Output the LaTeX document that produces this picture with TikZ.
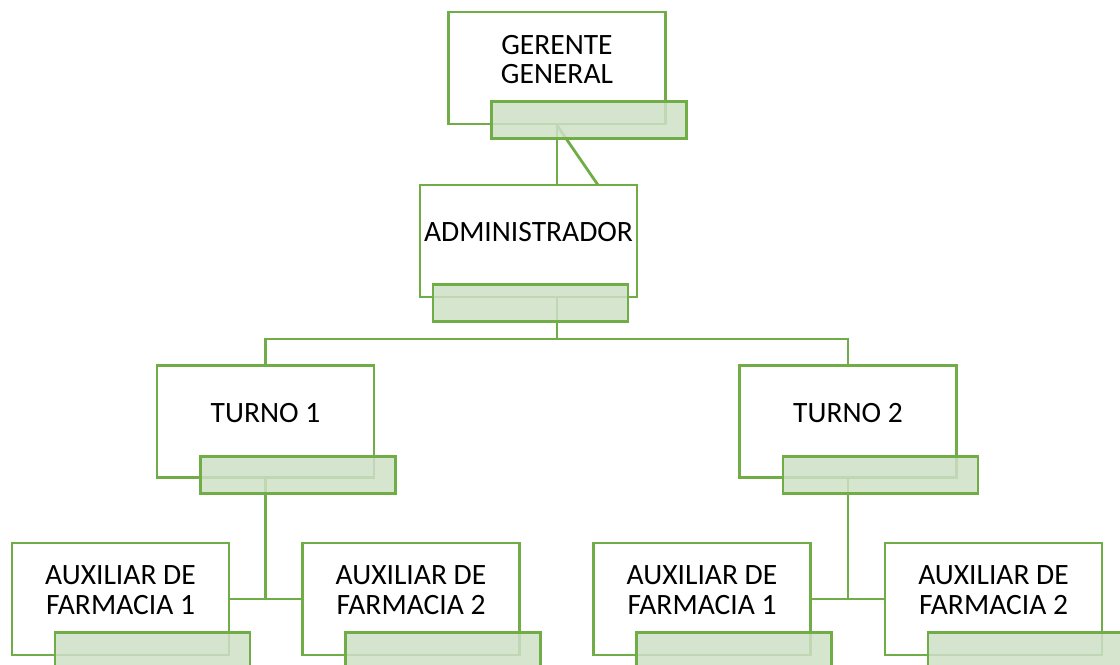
\documentclass[tikz,border=0pt]{standalone}
\usepackage{fontspec}
\setmainfont{Carlito}
\usepackage{tikz}
\definecolor{orggreen}{RGB}{112,173,71}
\definecolor{taggreen}{RGB}{206,224,198}

\begin{document}
\begin{tikzpicture}[
    x=0.02cm, y=-0.02cm,
    orgbox/.style={rectangle, draw=orggreen, fill=white, line width=1.6pt,
        minimum width=4.34cm, minimum height=2.24cm, inner sep=0pt},
    orgtext/.style={align=center, font=\fontsize{16.8}{17}\selectfont, inner sep=0pt},
    tagbox/.style={rectangle, draw=orggreen, fill=taggreen, fill opacity=0.85,
        line width=1.6pt, minimum width=3.9cm, minimum height=0.74cm,
        inner sep=0pt, anchor=north west},
    orgline/.style={draw=orggreen, line width=1.6pt}
]
\useasboundingbox (0,0) rectangle (1120,664);

% boxes
\node[orgbox] (ger) at (557,68) {};
\node[orgbox] (adm) at (528.5,241) {};
\node[orgbox] (t1) at (265.5,421.5) {};
\node[orgbox] (t2) at (848,421.5) {};
\node[orgbox] (a11) at (120.5,599) {};
\node[orgbox] (a12) at (411,599) {};
\node[orgbox] (a21) at (702,599) {};
\node[orgbox] (a22) at (993.5,599) {};

% texts
\node[orgtext] (ger-txt) at ([yshift=0.17cm]ger.center) {GERENTE\\GENERAL};
\node[orgtext] (adm-txt) at ([yshift=0.17cm]adm.center) {ADMINISTRADOR};
\node[orgtext] (t1-txt) at ([yshift=0.17cm]t1.center) {TURNO 1};
\node[orgtext] (t2-txt) at ([yshift=0.17cm]t2.center) {TURNO 2};
\node[orgtext] (a11-txt) at ([yshift=0.17cm]a11.center) {AUXILIAR DE\\FARMACIA 1};
\node[orgtext] (a12-txt) at ([yshift=0.17cm]a12.center) {AUXILIAR DE\\FARMACIA 2};
\node[orgtext] (a21-txt) at ([yshift=0.17cm]a21.center) {AUXILIAR DE\\FARMACIA 1};
\node[orgtext] (a22-txt) at ([yshift=0.17cm]a22.center) {AUXILIAR DE\\FARMACIA 2};

% connectors
\coordinate (asst) at (598,185);
\coordinate (bus) at (557,339);
\draw[orgline] (ger.south) -- (ger.south |- adm.north);
\draw[orgline] (ger.south) -- (asst);
\draw[orgline] (bus |- adm.south) -- (bus);
\draw[orgline] (t1.north) |- (bus) -| (t2.north);
\draw[orgline] (t1.south) -- (t1.south |- a11.east);
\draw[orgline] (a11.east) -- (a12.west);
\draw[orgline] (t2.south) -- (t2.south |- a21.east);
\draw[orgline] (a21.east) -- (a22.west);

% name tags
\node[tagbox] (ger-tag) at ([shift={(0.86cm,0.5cm)}]ger.south west) {};
\node[tagbox] (adm-tag) at ([shift={(0.26cm,0.3cm)}]adm.south west) {};
\node[tagbox] (t1-tag) at ([shift={(0.87cm,0.48cm)}]t1.south west) {};
\node[tagbox] (t2-tag) at ([shift={(0.87cm,0.48cm)}]t2.south west) {};
\node[tagbox] (a11-tag) at ([shift={(0.86cm,0.5cm)}]a11.south west) {};
\node[tagbox] (a12-tag) at ([shift={(0.86cm,0.5cm)}]a12.south west) {};
\node[tagbox] (a21-tag) at ([shift={(0.86cm,0.5cm)}]a21.south west) {};
\node[tagbox] (a22-tag) at ([shift={(0.86cm,0.5cm)}]a22.south west) {};
\end{tikzpicture}
\end{document}
